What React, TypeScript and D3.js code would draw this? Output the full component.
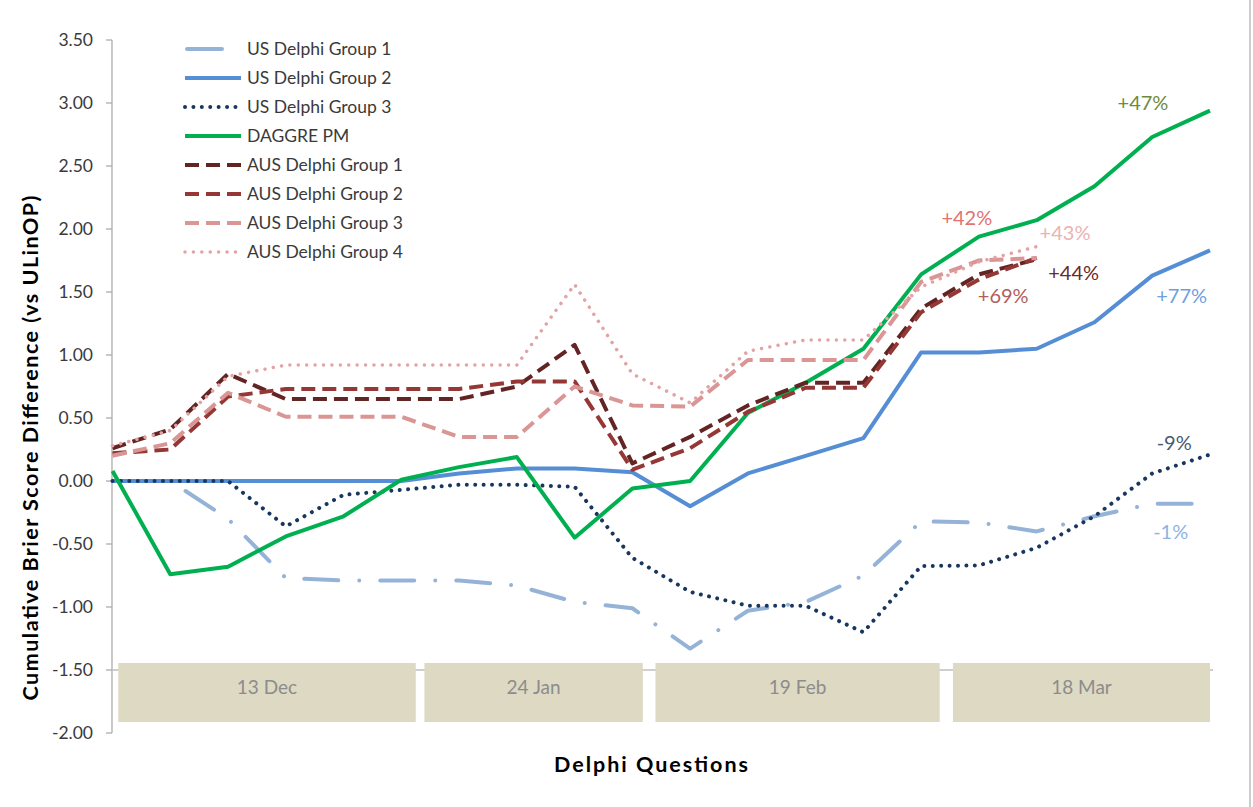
import React from 'react';
import * as d3 from 'd3';

const questions = ['1','2','3','4','5','6','7','8','9','10','11','12','13','14','15','16','17','18','19','20'];

const usDelphi1 = [0, 0, -0.30, -0.77, -0.79, -0.79, -0.79, -0.83, -0.96, -1.01, -1.33, -1.03, -0.96, -0.75, -0.32, -0.33, -0.40, -0.28, -0.18, -0.18];
const usDelphi2 = [0, 0, 0, 0, 0, 0, 0.06, 0.10, 0.10, 0.07, -0.20, 0.06, 0.20, 0.34, 1.02, 1.02, 1.05, 1.26, 1.63, 1.83];
const usDelphi3 = [0, 0, 0, -0.36, -0.11, -0.07, -0.03, -0.03, -0.045, -0.61, -0.88, -0.99, -0.99, -1.20, -0.675, -0.67, -0.53, -0.28, 0.06, 0.21];
const daggrePM = [0.08, -0.74, -0.68, -0.44, -0.28, 0.01, 0.11, 0.19, -0.45, -0.06, 0.0, 0.54, 0.78, 1.05, 1.64, 1.94, 2.07, 2.34, 2.73, 2.94];
const ausDelphi1 = [0.26, 0.41, 0.85, 0.65, 0.65, 0.65, 0.65, 0.75, 1.08, 0.14, 0.35, 0.60, 0.78, 0.78, 1.37, 1.64, 1.76];
const ausDelphi2 = [0.22, 0.25, 0.67, 0.73, 0.73, 0.73, 0.73, 0.79, 0.79, 0.09, 0.26, 0.55, 0.74, 0.74, 1.34, 1.60, 1.77];
const ausDelphi3 = [0.20, 0.30, 0.70, 0.51, 0.51, 0.51, 0.35, 0.35, 0.75, 0.60, 0.59, 0.96, 0.96, 0.96, 1.58, 1.75, 1.77];
const ausDelphi4 = [0.28, 0.40, 0.83, 0.92, 0.92, 0.92, 0.92, 0.92, 1.56, 0.85, 0.62, 1.03, 1.12, 1.12, 1.54, 1.74, 1.86];

const seriesNames = ['US Delphi Group 1', 'US Delphi Group 2', 'US Delphi Group 3', 'DAGGRE PM', 'AUS Delphi Group 1', 'AUS Delphi Group 2', 'AUS Delphi Group 3', 'AUS Delphi Group 4'];
const seriesValues = [usDelphi1, usDelphi2, usDelphi3, daggrePM, ausDelphi1, ausDelphi2, ausDelphi3, ausDelphi4];
const seriesColors = ['#95B3D7', '#558ED5', '#17375E', '#00B050', '#632523', '#953735', '#D99694', '#E3A3A2'];
const seriesDash = ['34 21 0.01 21', null, '0.01 8.4', null, '14 7', '14 7', '14 7', '0.01 8.4'];
const seriesCap = ['round', 'butt', 'round', 'butt', 'butt', 'butt', 'butt', 'round'];
const seriesWidth = [4, 4, 4, 4, 4, 4, 4, 3.5];

const yTicks = [3.5, 3.0, 2.5, 2.0, 1.5, 1.0, 0.5, 0.0, -0.5, -1.0, -1.5, -2.0];

const dateGroups = ['13 Dec', '24 Jan', '19 Feb', '18 Mar'];
const dateGroupStart = [0.1, 5.4, 9.4, 14.55];
const dateGroupEnd = [5.25, 9.18, 14.32, 19];

const endLabels = ['+47%', '+42%', '+43%', '+44%', '+69%', '+77%', '-9%', '-1%'];
const endLabelQ = [17.84, 14.79, 16.49, 16.64, 15.42, 18.51, 18.38, 18.32];
const endLabelV = [2.944, 2.032, 1.913, 1.595, 1.413, 1.413, 0.246, -0.46];
const endLabelColors = ['#6E8B3D', '#E07270', '#EBB3B1', '#6A2A28', '#B25E5B', '#6F9FE0', '#4A5A73', '#8FB4E3'];

const W = 1253;
const H = 807;
const FONT = 'Lato, "Open Sans", sans-serif';

export default function App() {
  const x = d3.scalePoint<string>().domain(questions).range([112.5, 1210]);
  const xi = d3.scaleLinear().domain([0, questions.length - 1]).range([112.5, 1210]);
  const y = d3.scaleLinear().domain([-2, 3.5]).range([733, 40]);

  const line = d3
    .line<number>()
    .x((_, i) => x(questions[i]) as number)
    .y((d) => y(d));

  const axisX = 112;
  const legendY0 = 49;
  const legendStep = 29;

  return (
    <svg
      width={W}
      height={H}
      viewBox={`0 0 ${W} ${H}`}
      style={{ position: 'absolute', left: 0, top: 0, background: '#fff' }}
    >
      <rect x={0} y={0} width={W} height={H} fill="#ffffff" />
      <line x1={1250} x2={1250} y1={0} y2={H} stroke="#bdbdbd" strokeWidth={1.5} />

      {/* y axis */}
      <line x1={axisX} x2={axisX} y1={y(3.5)} y2={y(-2)} stroke="#a6a6a6" strokeWidth={1.2} />
      {yTicks.map((t) => (
        <g key={t}>
          <line x1={axisX - 6} x2={axisX} y1={y(t)} y2={y(t)} stroke="#a6a6a6" strokeWidth={1.2} />
          <text
            x={93}
            y={y(t) + 6}
            textAnchor="end"
            fontFamily={FONT}
            fontSize={17.5}
            fill="#3a3a3a"
          >
            {t.toFixed(2)}
          </text>
        </g>
      ))}

      {/* x axis line at -1.5 */}
      <line x1={axisX} x2={1213} y1={y(-1.5)} y2={y(-1.5)} stroke="#bfbfbf" strokeWidth={1.5} />

      {/* date bands */}
      {dateGroups.map((g, i) => {
        const x0 = xi(dateGroupStart[i]);
        const x1 = xi(dateGroupEnd[i]);
        return (
          <g key={g}>
            <rect x={x0} y={663} width={x1 - x0} height={59} fill="#DDD9C3" />
            <text
              x={(x0 + x1) / 2}
              y={694}
              textAnchor="middle"
              fontFamily={FONT}
              fontSize={19}
              fill="#8c8c8c"
            >
              {g}
            </text>
          </g>
        );
      })}

      {/* series */}
      {seriesValues.map((vals, i) => (
        <path
          key={seriesNames[i]}
          d={line(vals) || ''}
          fill="none"
          stroke={seriesColors[i]}
          strokeWidth={seriesWidth[i]}
          strokeDasharray={seriesDash[i] || undefined}
          strokeLinecap={seriesCap[i] as any}
          strokeLinejoin="round"
        />
      ))}

      {/* end labels */}
      {endLabels.map((l, i) => (
        <text
          key={l + i}
          x={xi(endLabelQ[i])}
          y={y(endLabelV[i])}
          textAnchor="middle"
          fontFamily={FONT}
          fontSize={20}
          fill={endLabelColors[i]}
        >
          {l}
        </text>
      ))}

      {/* legend */}
      {seriesNames.map((n, i) => {
        const ly = legendY0 + i * legendStep;
        return (
          <g key={'lg' + n}>
            <line
              x1={i === 0 ? 187 : 185}
              x2={i === 0 ? 222 : 241}
              y1={ly}
              y2={ly}
              stroke={seriesColors[i]}
              strokeWidth={seriesWidth[i]}
              strokeDasharray={i === 0 ? undefined : seriesDash[i] || undefined}
              strokeLinecap={seriesCap[i] as any}
            />
            <text x={247} y={ly + 6} fontFamily={FONT} fontSize={17.5} fill="#3a3a3a">
              {n}
            </text>
          </g>
        );
      })}

      {/* axis titles */}
      <text
        transform="translate(38,448) rotate(-90)"
        textAnchor="middle"
        fontFamily={FONT}
        fontWeight="bold"
        fontSize={21.5}
        fill="#000"
        textLength={505}
        lengthAdjust="spacing"
      >
        Cumulative Brier Score Difference (vs ULinOP)
      </text>
      <text
        x={651}
        y={772}
        textAnchor="middle"
        fontFamily={FONT}
        fontWeight="bold"
        fontSize={21.5}
        fill="#000"
        textLength={194}
        lengthAdjust="spacing"
      >
        Delphi Questions
      </text>
    </svg>
  );
}
